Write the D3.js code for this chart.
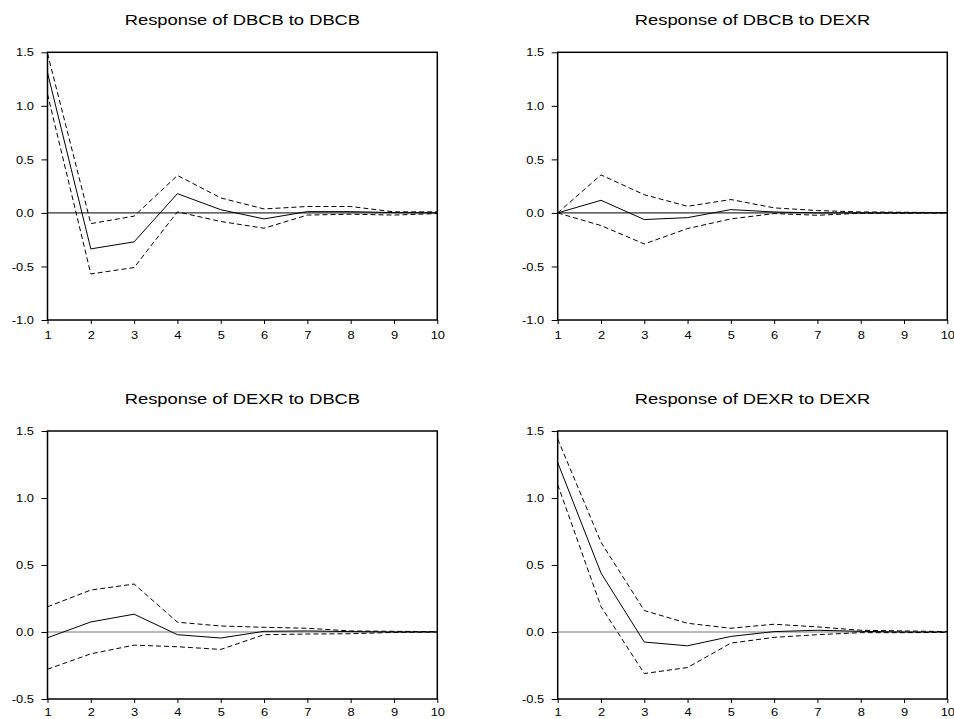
<!DOCTYPE html>
<html><head><meta charset="utf-8">
<script src="https://cdn.jsdelivr.net/npm/d3@7"></script>
<style>body{margin:0;background:#fff}svg{display:block}</style>
</head><body><svg id="c" width="954" height="719"></svg>
<script>
// ---- data ----
const periods = [1,2,3,4,5,6,7,8,9,10];
const titles = ["Response of DBCB to DBCB","Response of DBCB to DEXR","Response of DEXR to DBCB","Response of DEXR to DEXR"];
const topTicks = [-1.0,-0.5,0.0,0.5,1.0,1.5];
const bottomTicks = [-0.5,0.0,0.5,1.0,1.5];

const dbcbToDbcb      = [1.31,-0.336,-0.27,0.18,0.03,-0.056,0.012,0.012,0.003,0.0];
const dbcbToDbcbUpper = [1.49,-0.10,-0.03,0.35,0.14,0.037,0.06,0.06,0.01,0.01];
const dbcbToDbcbLower = [1.11,-0.57,-0.51,0.01,-0.08,-0.143,-0.02,-0.012,-0.02,-0.006];

const dbcbToDexr      = [0.0,0.118,-0.062,-0.044,0.031,0.009,0.0,0.0,0.0,0.0];
const dbcbToDexrUpper = [0.0,0.355,0.17,0.062,0.125,0.047,0.022,0.009,0.006,0.003];
const dbcbToDexrLower = [0.0,-0.118,-0.29,-0.146,-0.056,-0.006,-0.022,-0.003,-0.003,0.0];

const dexrToDbcb      = [-0.043,0.075,0.133,-0.02,-0.045,0.005,0.008,0.003,0.0,0.0];
const dexrToDbcbUpper = [0.188,0.313,0.358,0.073,0.045,0.035,0.028,0.008,0.005,0.003];
const dexrToDbcbLower = [-0.278,-0.163,-0.098,-0.11,-0.13,-0.02,-0.015,-0.013,-0.003,0.0];

const dexrToDexr      = [1.265,0.44,-0.075,-0.103,-0.033,0.003,0.013,0.005,0.0,0.0];
const dexrToDexrUpper = [1.44,0.67,0.16,0.065,0.028,0.058,0.038,0.013,0.008,0.003];
const dexrToDexrLower = [1.10,0.19,-0.31,-0.265,-0.083,-0.04,-0.02,-0.005,-0.005,-0.003];

// ---- layout ----
const cols = [[47.5,437.3],[557.7,947.3]];
const rows = [[52.3,320],[431,699]];
const panels = [
  {title:titles[0], resp:dbcbToDbcb, up:dbcbToDbcbUpper, lo:dbcbToDbcbLower, ticks:topTicks, c:0, r:0, zero:"#000"},
  {title:titles[1], resp:dbcbToDexr, up:dbcbToDexrUpper, lo:dbcbToDexrLower, ticks:topTicks, c:1, r:0, zero:"#000"},
  {title:titles[2], resp:dexrToDbcb, up:dexrToDbcbUpper, lo:dexrToDbcbLower, ticks:bottomTicks, c:0, r:1, zero:"#777"},
  {title:titles[3], resp:dexrToDexr, up:dexrToDexrUpper, lo:dexrToDexrLower, ticks:bottomTicks, c:1, r:1, zero:"#777"}
];

const svg = d3.select("#c");
const FONT = "'Liberation Sans', Arial, Helvetica, sans-serif";
const SX = 1.12;
const FS = 11.5;

panels.forEach(p => {
  const [x0,x1] = cols[p.c];
  const [y0,y1] = rows[p.r];
  const x = d3.scaleLinear().domain([1,10]).range([x0,x1]);
  const y = d3.scaleLinear().domain([p.ticks[0], p.ticks[p.ticks.length-1]]).range([y1,y0]);
  const g = svg.append("g");

  // title
  g.append("text")
    .attr("transform", `translate(${(x0+x1)/2},${y0-27.5}) scale(1.2,1)`)
    .attr("text-anchor","middle")
    .attr("font-family",FONT).attr("font-size",15.3).attr("fill","#000")
    .text(p.title);

  // zero line
  g.append("line")
    .attr("x1",x(1)).attr("x2",x(10)).attr("y1",y(0)).attr("y2",y(0))
    .attr("stroke",p.zero).attr("stroke-width",1);

  const line = d3.line().x((d,i)=>x(periods[i])).y(d=>y(d));
  g.append("path").attr("d",line(p.up)).attr("fill","none").attr("stroke","#000").attr("stroke-width",1).attr("stroke-dasharray","5,3");
  g.append("path").attr("d",line(p.lo)).attr("fill","none").attr("stroke","#000").attr("stroke-width",1).attr("stroke-dasharray","5,3");
  g.append("path").attr("d",line(p.resp)).attr("fill","none").attr("stroke","#000").attr("stroke-width",1);

  // frame
  g.append("rect").attr("x",x0).attr("y",y0).attr("width",x1-x0).attr("height",y1-y0)
    .attr("fill","none").attr("stroke","#000").attr("stroke-width",1.5);

  // y axis
  const ya = g.append("g").attr("transform",`translate(${x0},0)`)
    .call(d3.axisLeft(y).tickValues(p.ticks).tickSize(6).tickPadding(7).tickFormat(d => d.toFixed(1)));
  ya.select(".domain").remove();
  ya.selectAll("line").attr("stroke","#000").attr("stroke-width",1);
  ya.selectAll("text").attr("font-family",FONT).attr("font-size",FS).attr("fill","#000")
    .attr("x",-13.5/SX).attr("transform",`scale(${SX},1)`);

  // x axis
  const xa = g.append("g").attr("transform",`translate(0,${y1})`)
    .call(d3.axisBottom(x).tickValues(periods).tickSize(4).tickPadding(p.r === 1 ? 5 : 7).tickFormat(d => String(d)));
  xa.select(".domain").remove();
  xa.selectAll("line").attr("stroke","#000").attr("stroke-width",1);
  xa.selectAll("text").attr("font-family",FONT).attr("font-size",FS).attr("fill","#000")
    .attr("transform",`scale(${SX},1)`);
});
</script>
</body></html>
